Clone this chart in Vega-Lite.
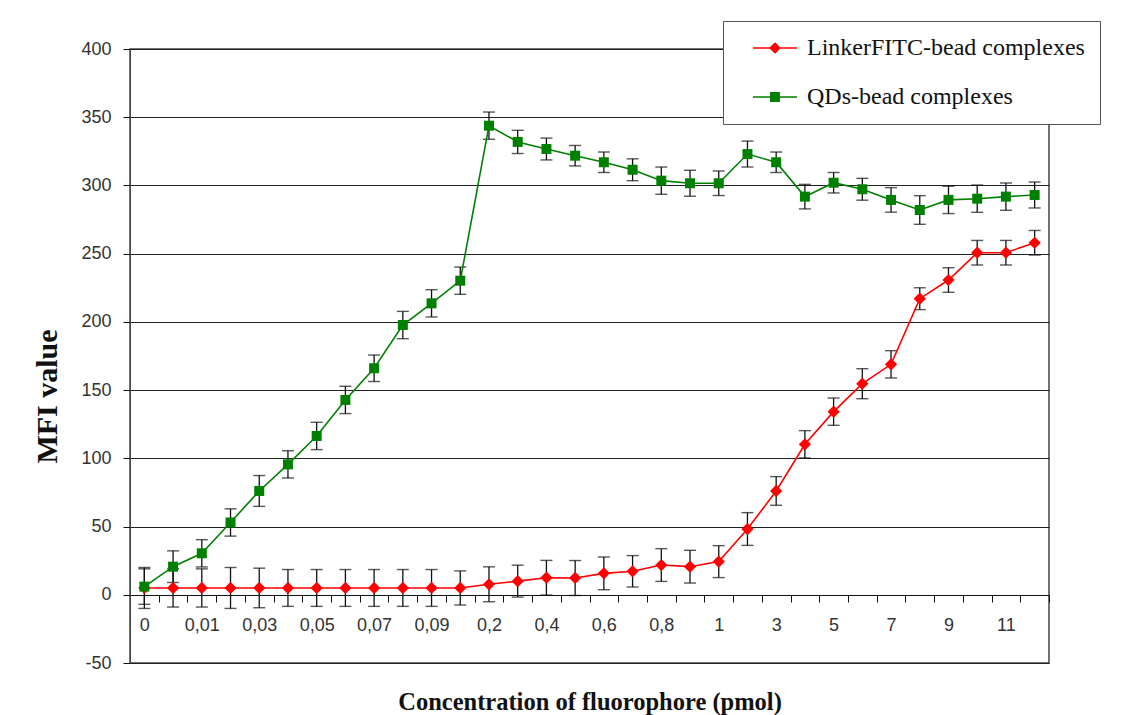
{
  "$schema": "https://vega.github.io/schema/vega-lite/v6.json",
  "width": 919,
  "height": 614,
  "autosize": {"type": "none"},
  "padding": {"left": 130, "top": 49, "right": 83, "bottom": 52},
  "background": "white",
  "config": {
    "view": {"stroke": "#444", "strokeWidth": 1.5},
    "axis": {"labelFont": "Liberation Sans", "labelColor": "#333", "labelFontSize": 18, "tickColor": "#111", "domainColor": "#444", "tickSize": 7, "titleFont": "Liberation Serif", "titleFontWeight": "bold", "titleColor": "#111"},
    "legend": {
      "orient": "none",
      "legendX": 593,
      "legendY": -28,
      "fillColor": "white",
      "strokeColor": "#555",
      "padding": 15,
      "symbolSize": 144,
      "symbolStrokeWidth": 1.5,
      "symbolOffset": 25,
      "labelOffset": 20,
      "labelFont": "Liberation Serif",
      "labelFontSize": 24,
      "labelColor": "#111",
      "rowPadding": 25,
      "labelLimit": 400
    }
  },
  "data": {"values": [
    {"conc": "0", "series": "LinkerFITC-bead complexes", "mfi": 5, "err": 15},
    {"conc": "0,005", "series": "LinkerFITC-bead complexes", "mfi": 5, "err": 14},
    {"conc": "0,01", "series": "LinkerFITC-bead complexes", "mfi": 5, "err": 14},
    {"conc": "0,02", "series": "LinkerFITC-bead complexes", "mfi": 5, "err": 15},
    {"conc": "0,03", "series": "LinkerFITC-bead complexes", "mfi": 5, "err": 14.5},
    {"conc": "0,04", "series": "LinkerFITC-bead complexes", "mfi": 5, "err": 13.5},
    {"conc": "0,05", "series": "LinkerFITC-bead complexes", "mfi": 5, "err": 13.5},
    {"conc": "0,06", "series": "LinkerFITC-bead complexes", "mfi": 5, "err": 13.5},
    {"conc": "0,07", "series": "LinkerFITC-bead complexes", "mfi": 5, "err": 13.5},
    {"conc": "0,08", "series": "LinkerFITC-bead complexes", "mfi": 5, "err": 13.5},
    {"conc": "0,09", "series": "LinkerFITC-bead complexes", "mfi": 5, "err": 13.5},
    {"conc": "0,1", "series": "LinkerFITC-bead complexes", "mfi": 5, "err": 12.5},
    {"conc": "0,2", "series": "LinkerFITC-bead complexes", "mfi": 7.7, "err": 12.8},
    {"conc": "0,3", "series": "LinkerFITC-bead complexes", "mfi": 10, "err": 11.7},
    {"conc": "0,4", "series": "LinkerFITC-bead complexes", "mfi": 12.5, "err": 12.7},
    {"conc": "0,5", "series": "LinkerFITC-bead complexes", "mfi": 12.3, "err": 12.8},
    {"conc": "0,6", "series": "LinkerFITC-bead complexes", "mfi": 15.7, "err": 12},
    {"conc": "0,7", "series": "LinkerFITC-bead complexes", "mfi": 17.2, "err": 11.5},
    {"conc": "0,8", "series": "LinkerFITC-bead complexes", "mfi": 21.8, "err": 12},
    {"conc": "0,9", "series": "LinkerFITC-bead complexes", "mfi": 20.6, "err": 12},
    {"conc": "1", "series": "LinkerFITC-bead complexes", "mfi": 24.3, "err": 11.7},
    {"conc": "2", "series": "LinkerFITC-bead complexes", "mfi": 48.2, "err": 12},
    {"conc": "3", "series": "LinkerFITC-bead complexes", "mfi": 76.1, "err": 10.5},
    {"conc": "4", "series": "LinkerFITC-bead complexes", "mfi": 110.3, "err": 10},
    {"conc": "5", "series": "LinkerFITC-bead complexes", "mfi": 134.2, "err": 10},
    {"conc": "6", "series": "LinkerFITC-bead complexes", "mfi": 154.7, "err": 11},
    {"conc": "7", "series": "LinkerFITC-bead complexes", "mfi": 168.9, "err": 10},
    {"conc": "8", "series": "LinkerFITC-bead complexes", "mfi": 217, "err": 8},
    {"conc": "9", "series": "LinkerFITC-bead complexes", "mfi": 230.7, "err": 9},
    {"conc": "10", "series": "LinkerFITC-bead complexes", "mfi": 250.7, "err": 9},
    {"conc": "11", "series": "LinkerFITC-bead complexes", "mfi": 250.7, "err": 9},
    {"conc": "12", "series": "LinkerFITC-bead complexes", "mfi": 258, "err": 9},
    {"conc": "0", "series": "QDs-bead complexes", "mfi": 6, "err": 13},
    {"conc": "0,005", "series": "QDs-bead complexes", "mfi": 20.6, "err": 11.6},
    {"conc": "0,01", "series": "QDs-bead complexes", "mfi": 30.4, "err": 10},
    {"conc": "0,02", "series": "QDs-bead complexes", "mfi": 53, "err": 10},
    {"conc": "0,03", "series": "QDs-bead complexes", "mfi": 76.1, "err": 11.3},
    {"conc": "0,04", "series": "QDs-bead complexes", "mfi": 95.6, "err": 10},
    {"conc": "0,05", "series": "QDs-bead complexes", "mfi": 116.4, "err": 10},
    {"conc": "0,06", "series": "QDs-bead complexes", "mfi": 142.8, "err": 10},
    {"conc": "0,07", "series": "QDs-bead complexes", "mfi": 166, "err": 9.7},
    {"conc": "0,08", "series": "QDs-bead complexes", "mfi": 197.7, "err": 10},
    {"conc": "0,09", "series": "QDs-bead complexes", "mfi": 213.6, "err": 10},
    {"conc": "0,1", "series": "QDs-bead complexes", "mfi": 230.2, "err": 10},
    {"conc": "0,2", "series": "QDs-bead complexes", "mfi": 343.8, "err": 10},
    {"conc": "0,3", "series": "QDs-bead complexes", "mfi": 331.9, "err": 8.5},
    {"conc": "0,4", "series": "QDs-bead complexes", "mfi": 326.7, "err": 8},
    {"conc": "0,5", "series": "QDs-bead complexes", "mfi": 321.8, "err": 7.5},
    {"conc": "0,6", "series": "QDs-bead complexes", "mfi": 317, "err": 7.5},
    {"conc": "0,7", "series": "QDs-bead complexes", "mfi": 311.5, "err": 8},
    {"conc": "0,8", "series": "QDs-bead complexes", "mfi": 303.5, "err": 10},
    {"conc": "0,9", "series": "QDs-bead complexes", "mfi": 301.6, "err": 9.5},
    {"conc": "1", "series": "QDs-bead complexes", "mfi": 301.6, "err": 9},
    {"conc": "2", "series": "QDs-bead complexes", "mfi": 323, "err": 9.5},
    {"conc": "3", "series": "QDs-bead complexes", "mfi": 317, "err": 7.5},
    {"conc": "4", "series": "QDs-bead complexes", "mfi": 291.8, "err": 9},
    {"conc": "5", "series": "QDs-bead complexes", "mfi": 302, "err": 7.5},
    {"conc": "6", "series": "QDs-bead complexes", "mfi": 297.2, "err": 8},
    {"conc": "7", "series": "QDs-bead complexes", "mfi": 289.4, "err": 9},
    {"conc": "8", "series": "QDs-bead complexes", "mfi": 282, "err": 10.5},
    {"conc": "9", "series": "QDs-bead complexes", "mfi": 289.4, "err": 10},
    {"conc": "10", "series": "QDs-bead complexes", "mfi": 290.3, "err": 10},
    {"conc": "11", "series": "QDs-bead complexes", "mfi": 291.8, "err": 10},
    {"conc": "12", "series": "QDs-bead complexes", "mfi": 293, "err": 9.5}
  ]},
  "encoding": {
    "x": {
      "field": "conc", "type": "nominal",
      "sort": ["0","0,005","0,01","0,02","0,03","0,04","0,05","0,06","0,07","0,08","0,09","0,1","0,2","0,3","0,4","0,5","0,6","0,7","0,8","0,9","1","2","3","4","5","6","7","8","9","10","11","12"],
      "scale": {"type": "band", "paddingInner": 0, "paddingOuter": 0},
      "axis": {
        "title": "Concentration of fluorophore (pmol)",
        "titleFontSize": 24.5,
        "titlePadding": 56,
        "offset": -68,
        "labelAngle": 0,
        "labelPadding": 14,
        "labelOverlap": false,
        "tickBand": "extent",
        "domainColor": "#111",
        "labelExpr": "indexof(['0','0,01','0,03','0,05','0,07','0,09','0,2','0,4','0,6','0,8','1','3','5','7','9','11'], datum.value) >= 0 ? datum.value : ''"
      }
    },
    "y": {
      "field": "mfi", "type": "quantitative",
      "scale": {"domain": [-50, 400], "nice": false, "zero": false},
      "axis": {
        "title": "MFI value",
        "titleFontSize": 30,
        "titlePadding": 18,
        "titleY": 347,
        "values": [-50, 0, 50, 100, 150, 200, 250, 300, 350, 400],
        "labelExpr": "'' + datum.value",
        "labelPadding": 12,
        "grid": true,
        "gridColor": "#222",
        "gridWidth": 1.2,
        "domainColor": "#444"
      }
    }
  },
  "resolve": {
    "scale": {"shape": "independent"},
    "legend": {"color": "independent", "shape": "independent"}
  },
  "layer": [
    {
      "mark": {"type": "errorbar", "ticks": {"size": 12, "thickness": 1.4, "color": "#111"}, "rule": {"strokeWidth": 1.3, "color": "#111"}},
      "encoding": {"yError": {"field": "err"}, "detail": {"field": "series"}}
    },
    {
      "mark": {"type": "line", "strokeWidth": 1.6},
      "encoding": {
        "color": {
          "field": "series", "type": "nominal",
          "scale": {"domain": ["LinkerFITC-bead complexes", "QDs-bead complexes"], "range": ["#ff0000", "#008000"]},
          "legend": null
        }
      }
    },
    {
      "mark": {"type": "point", "filled": true, "opacity": 1},
      "encoding": {
        "color": {"field": "series", "type": "nominal", "legend": null},
        "size": {
          "field": "series", "type": "nominal",
          "scale": {"domain": ["LinkerFITC-bead complexes", "QDs-bead complexes"], "range": [150, 100]},
          "legend": null
        },
        "shape": {
          "field": "series", "type": "nominal",
          "scale": {"domain": ["LinkerFITC-bead complexes", "QDs-bead complexes"], "range": ["diamond", "square"]},
          "legend": null
        }
      }
    },
    {
      "mark": {"type": "point", "filled": false, "opacity": 0, "strokeWidth": 1.5},
      "encoding": {
        "color": {"field": "series", "type": "nominal", "legend": {"title": null}},
        "shape": {
          "field": "series", "type": "nominal",
          "scale": {
            "domain": ["LinkerFITC-bead complexes", "QDs-bead complexes"],
            "range": [
              "M-3.67,0L3.67,0M0,-0.8L0.8,0L0,0.8L-0.8,0ZM0,-0.56L0.56,0L0,0.56L-0.56,0ZM0,-0.32L0.32,0L0,0.32L-0.32,0ZM0,-0.1L0.1,0L0,0.1L-0.1,0Z",
              "M-3.67,0L3.67,0M-0.7,-0.7L0.7,-0.7L0.7,0.7L-0.7,0.7ZM-0.46,-0.46L0.46,-0.46L0.46,0.46L-0.46,0.46ZM-0.22,-0.22L0.22,-0.22L0.22,0.22L-0.22,0.22Z"
            ]
          },
          "legend": {"title": null}
        }
      }
    }
  ]
}
